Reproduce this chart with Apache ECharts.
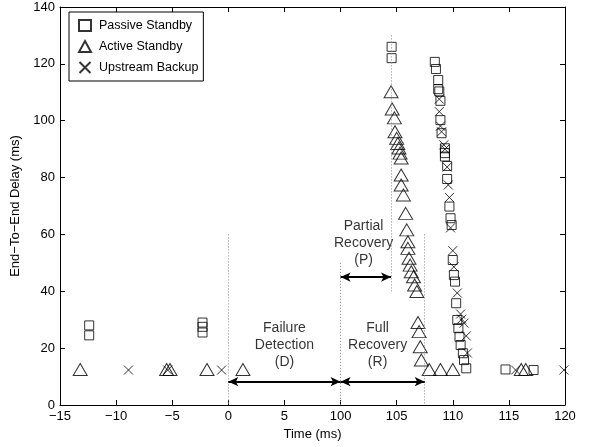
<!DOCTYPE html>
<html>
<head>
<meta charset="utf-8">
<script src="https://cdn.jsdelivr.net/npm/echarts@6/dist/echarts.min.js"></script>
<style>
html, body { margin: 0; padding: 0; background: #fff; }
#chart { width: 589px; height: 447px; }
</style>
</head>
<body>
<div id="chart"></div>
<script>
// time values in ms (real), delay in ms
var passiveT = [-12.4, -12.4, -2.3, -2.3, -2.3, 104.55, 104.55, 108.4, 108.5, 108.7, 108.7, 108.8, 108.9, 108.9, 109.0, 109.3, 109.3, 109.3, 109.5, 109.5, 109.7, 109.8, 109.9, 110.0, 110.1, 110.2, 110.3, 110.4, 110.5, 110.6, 110.7, 110.9, 111.0, 111.2, 114.7, 117.2];
var passiveY = [28, 24.5, 29, 27.5, 25.5, 126, 122, 120.7, 118.2, 114.3, 111.1, 110.3, 107.0, 100.2, 95.6, 90.3, 88.6, 87.4, 84.1, 79.5, 69.8, 65.7, 63.3, 51, 45.7, 43.4, 35.8, 29.9, 27, 24, 21.1, 18.2, 15.8, 12.9, 12.5, 12.3];

var activeT = [-13.2, -5.5, -5.2, -1.9, 1.3, 104.5, 104.6, 104.8, 104.85, 105.0, 105.1, 105.2, 105.3, 105.4, 105.4, 105.4, 105.6, 105.8, 105.9, 106.0, 106.0, 106.1, 106.2, 106.3, 106.5, 106.6, 106.8, 106.9, 107.0, 107.1, 107.2, 107.9, 108.9, 110.0, 116.1, 116.5];
var activeY = [12.5, 12.5, 12.5, 12.5, 12.5, 110.2, 104.1, 101.0, 96.1, 93.8, 92.0, 90.4, 88.6, 86.9, 80.9, 77.4, 73.9, 67.4, 61.6, 57.4, 55.1, 51.6, 49.2, 46.9, 45.1, 42.2, 39.9, 29.0, 25.8, 20.5, 15.8, 12.5, 12.5, 12.5, 12.5, 12.5];

var upT = [-8.9, -5.4, -0.6, 108.8, 108.8, 108.9, 109.0, 109.2, 109.3, 109.5, 109.6, 109.7, 109.8, 110.0, 110.1, 110.4, 110.7, 110.8, 111.0, 111.2, 111.3, 115.6, 119.9];
var upY = [12.3, 12.3, 12.3, 107.6, 103.2, 98.1, 96.1, 91.5, 90.0, 83.7, 77.4, 73.0, 62.3, 54.3, 48.6, 39.4, 32.0, 30.2, 28.8, 24.3, 18.3, 12.3, 12.3];

var seriesNames = ['Passive Standby', 'Active Standby', 'Upstream Backup'];
var xTicks = [-15, -10, -5, 0, 5, 100, 105, 110, 115, 120];

// the axis is broken between 5 and 100 ms: real time -> axis position
function tx(t) { return t >= 50 ? t - 90 : t; }
function pts(ts, ys) {
    var out = [];
    for (var i = 0; i < ts.length; i++) out.push([tx(ts[i]), ys[i]]);
    return out;
}
function minus(v) { return String(v).replace('-', '\u2212'); }

var font = 'Liberation Sans, Arial, sans-serif';
var hollow = {color: 'rgba(0,0,0,0)', borderColor: '#000', borderWidth: 1};
var dotted = {color: '#888', type: [1, 2], width: 1};
var arrowLine = {color: '#000', type: 'solid', width: 2};

var chart = echarts.init(document.getElementById('chart'));

var axisCommon = {
    axisLine: {show: true, onZero: false, lineStyle: {color: '#000', width: 1}},
    axisTick: {show: true, inside: true, length: 5, lineStyle: {color: '#000'}},
    splitLine: {show: false}
};

var option = {
    animation: false,
    grid: {left: 60, right: 24, top: 7, bottom: 42},
    legend: {
        orient: 'vertical',
        left: 69,
        top: 12,
        padding: [7, 5, 7, 9],
        itemGap: 8,
        itemWidth: 12,
        itemHeight: 11,
        borderColor: '#000',
        borderWidth: 1,
        backgroundColor: '#fff',
        textStyle: {fontFamily: font, fontSize: 12.5, color: '#000', padding: [0, 0, 0, 3]},
        data: seriesNames
    },
    xAxis: [
        echarts.util.merge({
            type: 'value', min: -15, max: 30, interval: 5,
            name: 'Time (ms)', nameLocation: 'middle', nameGap: 20,
            nameTextStyle: {fontFamily: font, fontSize: 13, color: '#000'},
            axisLabel: {
                fontFamily: font, fontSize: 13, color: '#000', margin: 5,
                formatter: function (v) { return minus(xTicks[Math.round((v + 15) / 5)]); }
            }
        }, axisCommon, true),
        echarts.util.merge({
            type: 'value', min: -15, max: 30, interval: 5, position: 'top',
            axisLabel: {show: false}
        }, axisCommon, true)
    ],
    yAxis: [
        echarts.util.merge({
            type: 'value', min: 0, max: 140, interval: 20,
            name: 'End\u2212To\u2212End Delay (ms)', nameLocation: 'middle', nameGap: 36,
            nameTextStyle: {fontFamily: font, fontSize: 13, color: '#000'},
            axisLabel: {fontFamily: font, fontSize: 13, color: '#000', margin: 5}
        }, axisCommon, true),
        echarts.util.merge({
            type: 'value', min: 0, max: 140, interval: 20, position: 'right',
            axisLabel: {show: false}
        }, axisCommon, true)
    ],
    series: [
        {
            name: seriesNames[0], type: 'scatter', symbol: 'rect', symbolSize: 9,
            itemStyle: hollow, data: pts(passiveT, passiveY), z: 3
        },
        {
            name: seriesNames[1], type: 'scatter', symbol: 'triangle', symbolSize: [14, 12],
            itemStyle: hollow, data: pts(activeT, activeY), z: 3
        },
        {
            name: seriesNames[2], type: 'scatter', symbol: 'path://M0,0L10,10M10,0L0,10', symbolSize: 9,
            itemStyle: hollow, data: pts(upT, upY), z: 3
        },
        {
            name: 'notes', type: 'scatter', symbolSize: 0, silent: true, z: 2,
            label: {
                show: true, position: 'inside', fontFamily: font, fontSize: 14,
                color: '#000', lineHeight: 17, align: 'center',
                formatter: function (p) { return p.data.text; }
            },
            data: [
                {value: [tx(5.0), 21], text: 'Failure\nDetection\n(D)'},
                {value: [tx(103.3), 21], text: 'Full\nRecovery\n(R)'},
                {value: [tx(102.05), 57], text: 'Partial\nRecovery\n(P)'}
            ],
            markLine: {
                silent: true,
                symbol: ['none', 'none'],
                label: {show: false},
                data: [
                    [{coord: [tx(0), 60], lineStyle: dotted}, {coord: [tx(0), 0]}],
                    [{coord: [tx(100), 50], lineStyle: dotted}, {coord: [tx(100), 0]}],
                    [{coord: [tx(104.5), 130], lineStyle: dotted}, {coord: [tx(104.5), 40]}],
                    [{coord: [tx(107.5), 60], lineStyle: dotted}, {coord: [tx(107.5), 0]}],
                    [{coord: [tx(0), 8.2], lineStyle: arrowLine, symbol: 'arrow', symbolSize: [7, 10]}, {coord: [tx(100), 8.2], symbol: 'arrow', symbolSize: [7, 10]}],
                    [{coord: [tx(100), 8.2], lineStyle: arrowLine, symbol: 'arrow', symbolSize: [7, 10]}, {coord: [tx(107.5), 8.2], symbol: 'arrow', symbolSize: [7, 10]}],
                    [{coord: [tx(100), 45], lineStyle: arrowLine, symbol: 'arrow', symbolSize: [7, 10]}, {coord: [tx(104.5), 45], symbol: 'arrow', symbolSize: [7, 10]}]
                ]
            }
        }
    ]
};

chart.setOption(option);
</script>
</body>
</html>
